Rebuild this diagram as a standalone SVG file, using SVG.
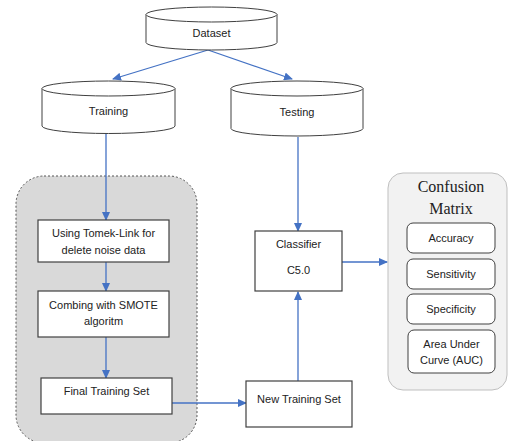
<svg xmlns="http://www.w3.org/2000/svg" width="512" height="441" viewBox="0 0 512 441">
<style>
.cyl{fill:#fff;stroke:#404040;stroke-width:1}
.box{fill:#fff;stroke:#404040;stroke-width:1.2}
.t{font-family:"Liberation Sans",Arial,sans-serif;font-size:11px;fill:#222;text-anchor:middle}
.ts{font-family:"Liberation Serif","Times New Roman",serif;font-size:16px;fill:#222;text-anchor:middle}
.c{stroke:#4472C4;stroke-width:1.3;fill:none;marker-end:url(#ah)}
.rb{fill:#fff;stroke:#404040;stroke-width:1}
</style>
<defs>
<marker id="ah" markerUnits="userSpaceOnUse" markerWidth="9" markerHeight="8" refX="8" refY="4" orient="auto">
<path d="M0,0 L9,4 L0,8 Z" fill="#4472C4"/>
</marker>
</defs>
<g id="group-preprocess">
<rect x="16" y="176" width="181" height="267" rx="28" ry="28" fill="#d9d9d9" stroke="#555" stroke-width="1" stroke-dasharray="2,2"/>
</g>
<g id="group-confusion">
<rect x="388" y="173" width="119" height="217" rx="15" ry="15" fill="#f2f2f2" stroke="#bfbfbf" stroke-width="1"/>
<text class="ts" x="451" y="192">Confusion</text>
<text class="ts" x="451" y="214">Matrix</text>
</g>
<g id="connectors">
<path class="c" d="M208,50 L113,79"/>
<path class="c" d="M208,50 L292,79"/>
<path class="c" d="M106,134 L106,220"/>
<path class="c" d="M106,262 L106,291"/>
<path class="c" d="M106,337 L106,378"/>
<path class="c" d="M172,403 L246,403"/>
<path class="c" d="M298,137 L298,231"/>
<path class="c" d="M298,381 L298,292"/>
<path class="c" d="M342,262 L387,262"/>
</g>
<g id="dataset">
<path class="cyl" d="M146,14.5 A65.5,7.5 0 0 1 277,14.5 V42.5 A65.5,7.5 0 0 1 146,42.5 Z"/>
<path class="cyl" d="M146,14.5 A65.5,7.5 0 0 0 277,14.5" fill="none"/>
<text class="t" x="211.5" y="37">Dataset</text>
</g>
<g id="training">
<path class="cyl" d="M42,88.5 A66.5,7.5 0 0 1 175,88.5 V126 A66.5,7.5 0 0 1 42,126 Z"/>
<path class="cyl" d="M42,88.5 A66.5,7.5 0 0 0 175,88.5" fill="none"/>
<text class="t" x="108.5" y="115">Training</text>
</g>
<g id="testing">
<path class="cyl" d="M231,88.5 A66,7.5 0 0 1 363,88.5 V128.5 A66,7.5 0 0 1 231,128.5 Z"/>
<path class="cyl" d="M231,88.5 A66,7.5 0 0 0 363,88.5" fill="none"/>
<text class="t" x="297" y="116">Testing</text>
</g>
<g id="tomek">
<rect class="box" x="38" y="220" width="131" height="42"/>
<text class="t" x="103.5" y="237">Using Tomek-Link for</text>
<text class="t" x="103.5" y="254">delete noise data</text>
</g>
<g id="smote">
<rect class="box" x="38" y="291" width="131" height="46"/>
<text class="t" x="103.5" y="309">Combing with SMOTE</text>
<text class="t" x="103.5" y="325">algoritm</text>
</g>
<g id="final-training">
<rect class="box" x="41" y="378" width="131" height="36"/>
<text class="t" x="106.5" y="395">Final Training Set</text>
</g>
<g id="new-training">
<rect class="box" x="246" y="381" width="106" height="46"/>
<text class="t" x="299" y="403">New Training Set</text>
</g>
<g id="classifier">
<rect class="box" x="255" y="231" width="87" height="60"/>
<text class="t" x="298.5" y="248">Classifier</text>
<text class="t" x="298.5" y="274">C5.0</text>
</g>
<g id="accuracy">
<rect class="rb" x="407" y="223" width="88" height="30" rx="6" ry="6"/>
<text class="t" x="451" y="242">Accuracy</text>
</g>
<g id="sensitivity">
<rect class="rb" x="407" y="259" width="88" height="30" rx="6" ry="6"/>
<text class="t" x="451" y="278">Sensitivity</text>
</g>
<g id="specificity">
<rect class="rb" x="407" y="294" width="88" height="30" rx="6" ry="6"/>
<text class="t" x="451" y="313">Specificity</text>
</g>
<g id="auc">
<rect class="rb" x="408" y="330" width="87" height="43" rx="6" ry="6"/>
<text class="t" x="451.5" y="348">Area Under</text>
<text class="t" x="451.5" y="364">Curve (AUC)</text>
</g>
</svg>
